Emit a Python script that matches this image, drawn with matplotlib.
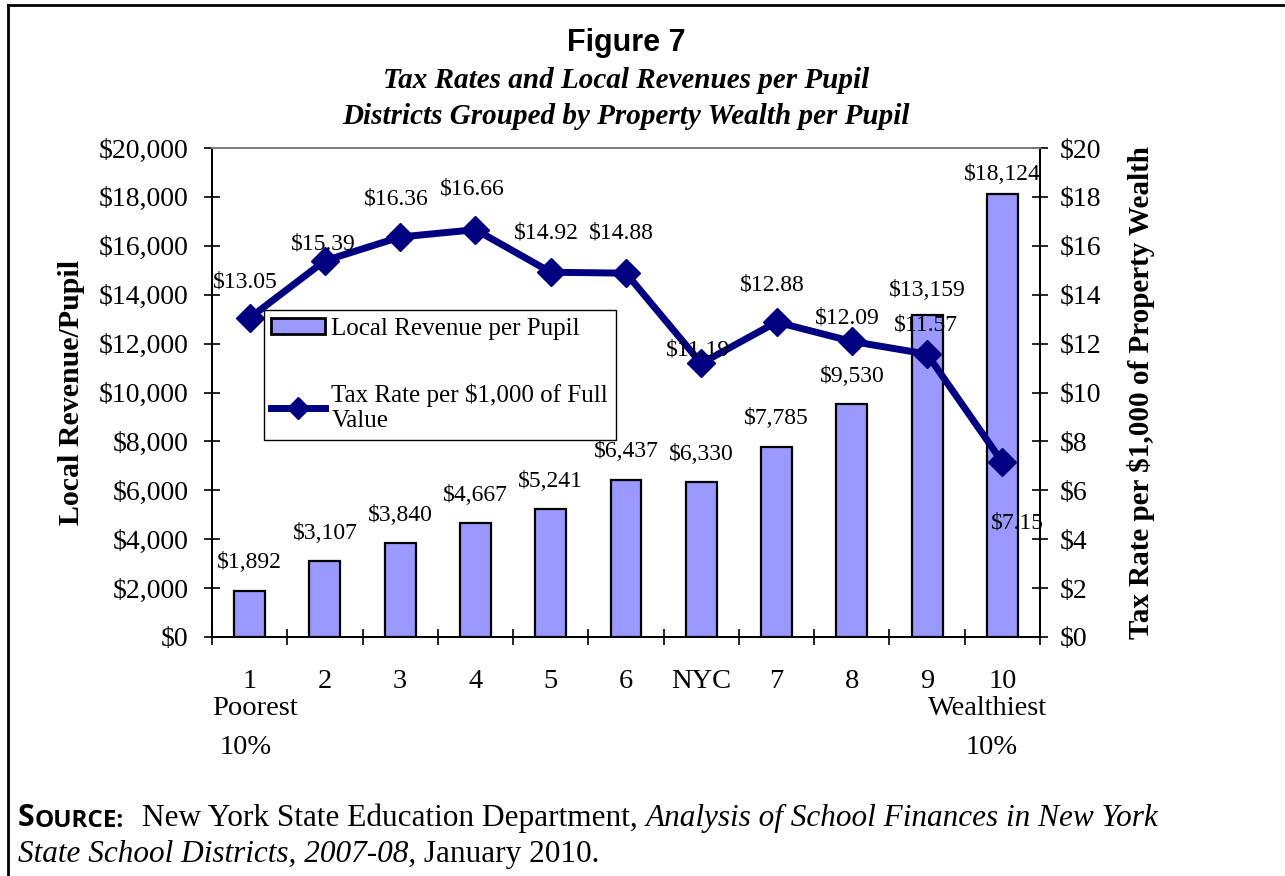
import matplotlib
matplotlib.use("Agg")
import matplotlib.pyplot as plt
from matplotlib.patches import Patch
from matplotlib.lines import Line2D
from matplotlib.ticker import FuncFormatter, MultipleLocator
from matplotlib.transforms import blended_transform_factory

# --- data ---
groups = ["1", "2", "3", "4", "5", "6", "NYC", "7", "8", "9", "10"]
revenue = [1892, 3107, 3840, 4667, 5241, 6437, 6330, 7785, 9530, 13159, 18124]
tax_rate = [13.05, 15.39, 16.36, 16.66, 14.92, 14.88, 11.19, 12.88, 12.09, 11.57, 7.15]

BAR = "#9999FF"
NAVY = "#000080"
SERIF = "Liberation Serif"

W, H = 1285, 876
fig = plt.figure(figsize=(W / 100, H / 100), dpi=100)
ax = fig.add_axes([212 / W, 1 - 637 / H, 828 / W, 489 / H])
ax2 = ax.twinx()

x = list(range(len(groups)))

# bars
ax.bar(x, revenue, width=0.41, color=BAR, edgecolor="black", linewidth=1.6, zorder=2)
ax.set_xlim(-0.5, len(groups) - 0.5)
ax.set_ylim(0, 20000)
ax.yaxis.set_major_locator(MultipleLocator(2000))
ax.yaxis.set_major_formatter(FuncFormatter(lambda v, p: f"${v:,.0f}"))

# line
ax2.plot(x, tax_rate, color=NAVY, linewidth=5, marker="D", markersize=14, zorder=3)
ax2.set_ylim(0, 20)
ax2.yaxis.set_major_locator(MultipleLocator(2))
ax2.yaxis.set_major_formatter(FuncFormatter(lambda v, p: f"${v:.0f}"))

# ticks
ax.set_xticks(x)
ax.set_xticklabels(groups)
ax.set_xticks([i - 0.5 for i in range(len(groups) + 1)], minor=True)
ax.tick_params(axis="x", which="major", length=0, pad=23, labelsize=20.5)
ax.tick_params(axis="x", which="minor", direction="inout", length=12, width=1.2)
ax.tick_params(axis="y", direction="inout", length=12, width=1.2, pad=11, labelsize=20)
ax2.tick_params(axis="y", direction="inout", length=12, width=1.2, pad=8, labelsize=20)
for lab in ax.get_xticklabels() + ax.get_yticklabels() + ax2.get_yticklabels():
    lab.set_fontfamily(SERIF)

# spines
for a in (ax, ax2):
    for s in a.spines.values():
        s.set_linewidth(1.3)
    a.spines["top"].set_color("#808080")

ax.set_ylabel("Local Revenue/Pupil", fontfamily=SERIF, fontweight="bold", fontsize=21.5, labelpad=10)
ax2.set_ylabel("Tax Rate per $1,000 of Property Wealth", fontfamily=SERIF, fontweight="bold",
               fontsize=21, labelpad=19)

# bar value labels (offsets in points above the bar top)
bar_off = [20, 20, 20, 20, 20, 20, 20, 20, 20, 18, 14]
for i, v in enumerate(revenue):
    ax.annotate(f"${v:,}", (i, v), xytext=(0, bar_off[i]), textcoords="offset points",
                ha="center", va="center", fontsize=17, fontfamily=SERIF, zorder=4)

# line value labels
line_off = [(-3, 26), (-1, 12), (-3, 27), (-2, 29), (-3, 28), (-3, 29),
            (-2, 10), (-3, 27), (-3, 17), (-1, 21), (11, -44)]
for i, v in enumerate(tax_rate):
    ax2.annotate(f"${v:.2f}", (i, v), xytext=line_off[i], textcoords="offset points",
                 ha="center", va="center", fontsize=17, fontfamily=SERIF, zorder=5)

# extra x labels
tr = blended_transform_factory(ax.transData, ax.transAxes)
for xv, yv, txt in [(0.07, -0.146, "Poorest"), (-0.05, -0.226, "10%"),
                    (9.8, -0.146, "Wealthiest"), (9.86, -0.226, "10%")]:
    ax.text(xv, yv, txt, transform=tr, ha="center", va="center", fontsize=20.5, fontfamily=SERIF)

# legend
handles = [
    Patch(facecolor=BAR, edgecolor="black", linewidth=2),
    Line2D([], [], color=NAVY, linewidth=5, marker="D", markersize=11),
]
leg = ax2.legend(handles, ["Local Revenue per Pupil", "Tax Rate per $1,000 of Full\nValue"],
                 loc="upper left", bbox_to_anchor=(0.0628, 0.6687), borderaxespad=0,
                 prop={"family": SERIF, "size": 18}, frameon=True, fancybox=False,
                 edgecolor="black", framealpha=1, handlelength=2.15, handleheight=0.6,
                 handletextpad=0.25, borderpad=0.3, labelspacing=1.75)
leg.get_frame().set_linewidth(1.0)
leg.set_zorder(10)

# titles
cx = (212 + 1040) / 2 / W
fig.text(cx, 1 - 43 / H, "Figure 7", ha="center", va="center", fontsize=22,
         fontfamily="Liberation Sans", fontweight="bold")
fig.text(cx, 1 - 80 / H, "Tax Rates and Local Revenues per Pupil", ha="center", va="center",
         fontsize=21, fontfamily=SERIF, fontweight="bold", fontstyle="italic")
fig.text(cx, 1 - 117 / H, "Districts Grouped by Property Wealth per Pupil", ha="center", va="center",
         fontsize=21, fontfamily=SERIF, fontweight="bold", fontstyle="italic")

# source note
sans_b = dict(fontfamily="Open Sans", fontweight="bold")
ser = dict(fontfamily=SERIF, fontsize=22.5)
ser_i = dict(fontfamily=SERIF, fontsize=22.5, fontstyle="italic")

s1 = fig.text(18 / W, 1 - 826 / H, "S", va="baseline", ha="left", fontsize=22, **sans_b)
ax.annotate("OURCE:", xy=(1, 0), xycoords=s1, va="bottom", ha="left",
            annotation_clip=False, fontsize=17.5, **sans_b)
s3 = fig.text(142 / W, 1 - 826 / H, "New York State Education Department, ", va="baseline",
              ha="left", **ser)
ax.annotate("Analysis of School Finances in New York", xy=(1, 0), xycoords=s3, va="bottom",
            ha="left", annotation_clip=False, **ser_i)
s5 = fig.text(18 / W, 1 - 862 / H, "State School Districts, 2007-08,", va="baseline",
              ha="left", **ser_i)
ax.annotate(" January 2010.", xy=(1, 0), xycoords=s5, va="bottom", ha="left",
            annotation_clip=False, **ser)

# outer frame
fig.add_artist(Line2D([8 / W, 8 / W], [0, 1 - 5 / H], transform=fig.transFigure,
                      color="black", linewidth=2))
fig.add_artist(Line2D([8 / W, 1], [1 - 5 / H, 1 - 5 / H], transform=fig.transFigure,
                      color="black", linewidth=2))

fig.savefig("out.png", dpi=100, facecolor="white")
